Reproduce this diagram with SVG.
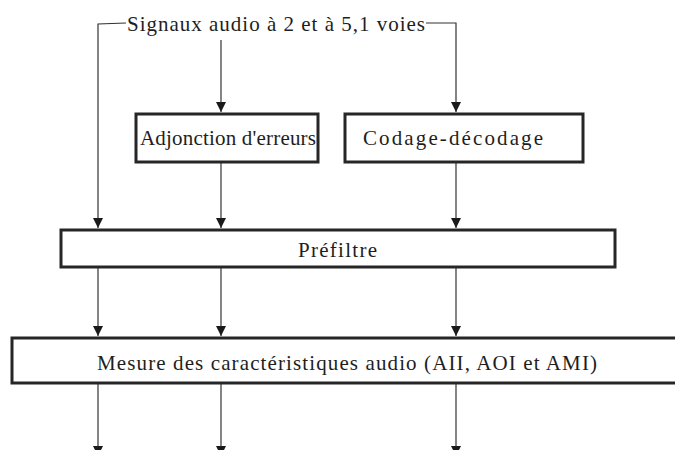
<svg xmlns="http://www.w3.org/2000/svg" width="675" height="450" viewBox="0 0 675 450">
<style>
.box{fill:#fff;stroke:#262626;stroke-width:3}
.lbl{font-family:'Liberation Serif','Times New Roman',serif;font-size:21px;fill:#1e1e1e}
.wire{fill:none;stroke:#333;stroke-width:1.2}
</style>
<defs>
<marker id="ah" viewBox="0 0 10 10" refX="10" refY="5" markerWidth="10" markerHeight="10" markerUnits="userSpaceOnUse" orient="auto">
<path d="M0,0 L10,5 L0,10 Z" fill="#1a1a1a"/>
</marker>
</defs>
<rect width="675" height="450" fill="#fff"/>
<g id="connectors">
<path class="wire" d="M126,23 L98,24 L98,228" marker-end="url(#ah)"/>
<path class="wire" d="M426,23 L456,23 L456,112" marker-end="url(#ah)"/>
<path class="wire" d="M221,40 L221,112" marker-end="url(#ah)"/>
<path class="wire" d="M221,163 L221,228" marker-end="url(#ah)"/>
<path class="wire" d="M456,162 L456,228" marker-end="url(#ah)"/>
<path class="wire" d="M98,268 L98,336" marker-end="url(#ah)"/>
<path class="wire" d="M221,268 L221,336" marker-end="url(#ah)"/>
<path class="wire" d="M456,268 L456,336" marker-end="url(#ah)"/>
<path class="wire" d="M98,384 L98,456" marker-end="url(#ah)"/>
<path class="wire" d="M221,384 L221,456" marker-end="url(#ah)"/>
<path class="wire" d="M456,384 L456,456" marker-end="url(#ah)"/>
</g>
<g id="source">
<text class="lbl" x="127" y="30.5" textLength="298" lengthAdjust="spacing">Signaux audio à 2 et à 5,1 voies</text>
</g>
<g id="adjonction">
<rect class="box" x="136" y="114" width="182" height="48"/>
<text class="lbl" x="140" y="145" textLength="176" lengthAdjust="spacing">Adjonction d'erreurs</text>
</g>
<g id="codage">
<rect class="box" x="345" y="114" width="238" height="48"/>
<text class="lbl" x="363" y="145" textLength="180" lengthAdjust="spacing">Codage-décodage</text>
</g>
<g id="prefiltre">
<rect class="box" x="61" y="230" width="554" height="37"/>
<text class="lbl" x="298" y="257" textLength="79" lengthAdjust="spacing">Préfiltre</text>
</g>
<g id="mesure">
<rect class="box" x="12" y="338" width="668" height="45"/>
<text class="lbl" x="97" y="370" textLength="500" lengthAdjust="spacing">Mesure des caractéristiques audio (AII, AOI et AMI)</text>
</g>
</svg>
